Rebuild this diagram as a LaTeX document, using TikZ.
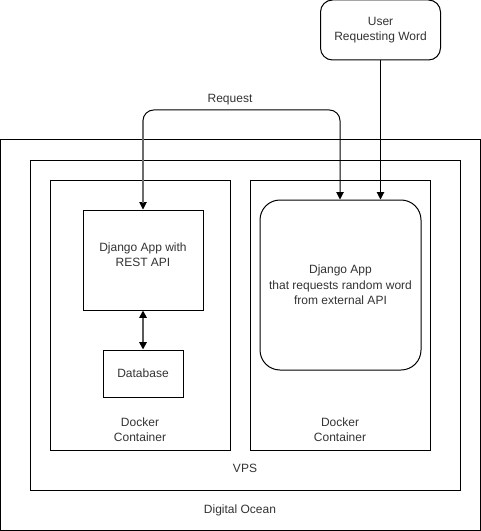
\documentclass[tikz,border=0pt]{standalone}
\usepackage{fontspec}
\setmainfont{Liberation Sans}
\usetikzlibrary{arrows.meta,positioning}
\tikzset{
  px/.style={x=0.75pt,y=-0.75pt},
  frame/.style={draw=black,line width=0.75pt,fill=none},
  lbl/.style={font=\fontsize{9}{11.5}\selectfont,align=center,text=black!80,inner sep=0pt},
  conn/.style={draw=black,line width=0.75pt},
  tip/.style={-{Triangle[length=5.5pt,width=5.5pt,color=black,fill=black]}},
  tips/.style={{Triangle[length=5.5pt,width=5.5pt,color=black,fill=black]}-{Triangle[length=5.5pt,width=5.5pt,color=black,fill=black]}}
}
\begin{document}
\begin{tikzpicture}[px]
\useasboundingbox (0,0) rectangle (481,531);
\fill[white] (0,0) rectangle (481,531);
% containers
\draw[frame] (0.5,140) rectangle (480,530);
\draw[frame] (30.5,160.5) rectangle (460.5,490);
\draw[frame] (50.5,180.5) rectangle (230.5,450);
\draw[frame] (250.5,180.5) rectangle (430.5,450);
% boxes
\node[frame,minimum width=120*0.75pt,minimum height=100*0.75pt,inner sep=0pt] (rest) at (143,260) {};
\node[lbl] at (143,255) {Django App with\\REST API};
\node[frame,minimum width=80*0.75pt,minimum height=47*0.75pt,inner sep=0pt,lbl] (db) at (143,373.5) {Database};
\node[frame,rounded corners=15pt,minimum width=161*0.75pt,minimum height=170*0.75pt,inner sep=0pt] (app) at (340.5,285) {};
\node[lbl] at (340.5,285) {Django App\\that requests random word\\from external API};
\node[frame,rounded corners=9pt,minimum width=120*0.75pt,minimum height=60*0.75pt,inner sep=0pt,lbl] (user) at (380.5,30) {User\\Requesting Word};
% labels
\node[lbl] (dl) at (140,430) {Docker\\Container};
\node[lbl] (dr) at (340,430) {Docker\\Container};
\node[lbl] (vps) at (245,468) {VPS};
\node[lbl] (do) at (240,510) {Digital Ocean};
\node[lbl] (req) at (230,100) {Request};
% connectors
\coordinate (c1) at (143,110);
\coordinate (c2) at (340,110);
\coordinate (g1) at (143,120);
\coordinate (g2) at (143,203);
\draw[conn,tip] (user.south) -- (user.south |- app.north);
\draw[conn,tips,rounded corners=8pt] (rest.north) -- (c1) -- (c2) -- (c2 |- app.north);
\draw[conn,draw=gray!85!black,line width=1.1pt] (g1) -- (g2);
\draw[conn,draw=gray!70!black,line width=1.3pt,tips] (rest.south) -- (db.north);
\end{tikzpicture}
\end{document}
